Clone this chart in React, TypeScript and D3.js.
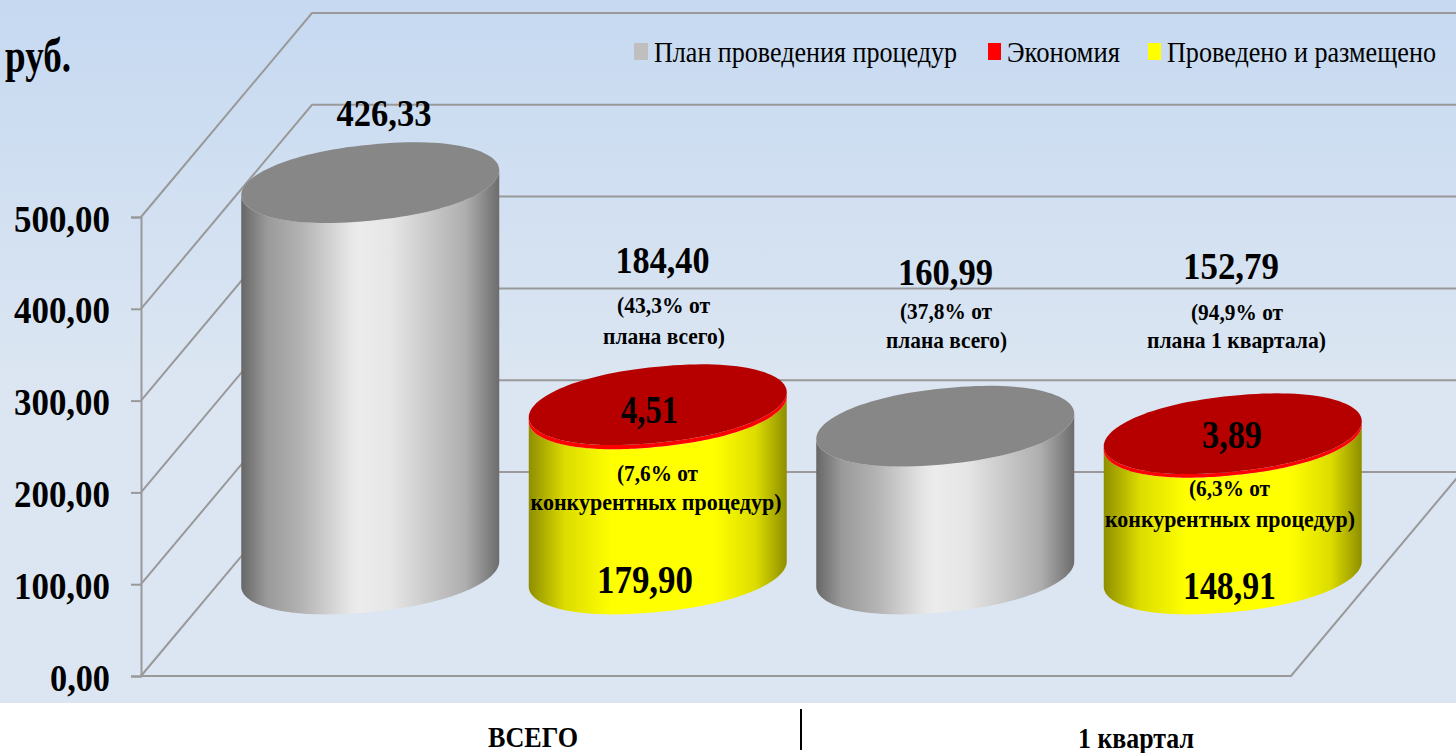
import React, { useEffect, useRef } from "react";
import * as d3 from "d3";

const width = 1456;
const height = 753;

// values
const bars = ["total-plan", "total-done", "q1-plan", "q1-done"];
const planValues = [426.33, 0, 160.99, 0];
const doneValues = [0, 179.9, 0, 148.91];
const savedValues = [0, 4.51, 0, 3.89];
const yTicks = [0, 100, 200, 300, 400, 500];
const legendLabels = ["План проведения процедур", "Экономия", "Проведено и размещено"];
const groupLabels = ["ВСЕГО", "1 квартал"];
const totalLabels = ["426,33", "184,40", "160,99", "152,79"];

const serif = "'Liberation Serif', 'Times New Roman', serif";

// chart geometry
const x0 = 141;
const floorW = 1150;
const y0 = 676;
const y500 = 217;
const depthX = 171;
const depthY = 204;
const radiusX = 129;
const radiusY = 38;
const skew = -12.5;
const roundness = 0.92; // <1 gives the fuller ends of the stretched ovals

const xBand = d3.scaleBand<string>().domain(bars).range([x0, x0 + floorW]);
const y = d3.scaleLinear().domain([0, 500]).range([y0, y500]);
const fmt = (v: number) => d3.format(".2f")(v).replace(".", ",");

const line = d3.line<[number, number]>().curve(d3.curveLinear);

function rim(cx: number, cy: number, from: number, to: number) {
  return d3.range(0, 121).map((i): [number, number] => {
    const t = from + ((to - from) * i) / 120;
    const c = Math.cos(t);
    const u = Math.sign(c) * Math.pow(Math.abs(c), roundness);
    return [cx + radiusX * u, cy + radiusY * Math.sin(t) + skew * u];
  });
}

function cylinderSide(cx: number, yBase: number, yTop: number) {
  // lower half of the top edge, then back along lower half of base
  const base = rim(cx, yBase, 0, Math.PI);
  const top = rim(cx, yTop, Math.PI, 0);
  return line([...base, ...top]) + "Z";
}

function ellipse(cx: number, cy: number) {
  return line(rim(cx, cy, 0, Math.PI * 2)) + "Z";
}

function Gradient({ id, stops }: { id: string; stops: [number, string][] }) {
  return (
    <linearGradient id={id} x1="0" x2="1" y1="0" y2="0">
      {stops.map(([o, c]) => (
        <stop key={o} offset={o} stopColor={c} />
      ))}
    </linearGradient>
  );
}

function T(props: any) {
  const { size, bold = true, children, anchor = "middle", w, ...rest } = props;
  return (
    <text
      fontFamily={serif}
      fontSize={size}
      fontWeight={bold ? "bold" : "normal"}
      textAnchor={anchor}
      fill="#000"
      textLength={w}
      lengthAdjust={w ? "spacingAndGlyphs" : undefined}
      {...rest}
    >
      {children}
    </text>
  );
}

// the legend text is tall and narrow in the source, so stretch it upward
const legendText = (x: number) => `translate(${x},62) scale(1,1.16)`;

export default function App() {
  const axisRef = useRef<SVGGElement>(null);

  useEffect(() => {
    const g = d3.select(axisRef.current);
    g.call(
      d3
        .axisLeft(y)
        .tickValues(yTicks)
        .tickSize(10)
        .tickPadding(21)
        .tickFormat((d) => fmt(+d)) as any
    );
    g.selectAll("path").attr("stroke", "#999").attr("stroke-width", 2);
    g.selectAll("line").attr("stroke", "#999").attr("stroke-width", 2);
    g.selectAll<SVGTextElement, number>("text")
      .attr("font-family", serif)
      .attr("font-size", 38)
      .attr("font-weight", "bold")
      .attr("fill", "#000")
      .attr("dy", "0.37em")
      .attr("lengthAdjust", "spacingAndGlyphs")
      .attr("textLength", (d) => (d === 0 ? 60 : 96));
  }, []);

  const cxOf = (i: number) => xBand(bars[i])! + xBand.bandwidth() / 2 + depthX / 2;
  const yOf = (v: number) => y(v) - depthY / 2;

  return (
    <svg
      width={width}
      height={height}
      style={{ position: "absolute", left: 0, top: 0, background: "#fff" }}
    >
      <defs>
        <linearGradient id="bg" x1="0" x2="0" y1="0" y2="1">
          <stop offset="0" stopColor="#c6d9f1" />
          <stop offset="0.55" stopColor="#dce6f2" />
          <stop offset="1" stopColor="#dce6f2" />
        </linearGradient>
        <Gradient
          id="gray"
          stops={[
            [0, "#676767"],
            [0.1, "#9a9a9a"],
            [0.23, "#b2b2b2"],
            [0.42, "#e6e6e6"],
            [0.46, "#ececec"],
            [0.58, "#e6e6e6"],
            [0.87, "#aeaeae"],
            [1, "#6c6c6c"],
          ]}
        />
        <Gradient
          id="yellow"
          stops={[
            [0, "#8e8e00"],
            [0.14, "#dcdc00"],
            [0.32, "#ffff00"],
            [0.72, "#ffff00"],
            [0.88, "#dcdc00"],
            [1, "#8e8e00"],
          ]}
        />
      </defs>

      <rect width={width} height={703} fill="url(#bg)" />

      {/* floor + back wall lines */}
      <g fill="none" stroke="#999" strokeWidth={2}>
        {yTicks.map((t) => (
          <path
            key={t}
            d={line([
              [x0, y(t)],
              [x0 + depthX, y(t) - depthY],
              [width + 10, y(t) - depthY],
            ])!}
          />
        ))}
        <path
          d={line([
            [x0, y(0)],
            [x0 + floorW, y(0)],
            [x0 + floorW + depthX, y(0) - depthY],
          ])!}
        />
      </g>

      <g ref={axisRef} transform={`translate(${x0},0)`} />

      {/* cylinders */}
      {bars.map((b, i) => {
        const cx = cxOf(i);
        const base = yOf(0);
        if (planValues[i] > 0) {
          const top = yOf(planValues[i]);
          return (
            <g key={b}>
              <path d={cylinderSide(cx, base, top)} fill="url(#gray)" />
              <path d={ellipse(cx, top)} fill="#878787" />
            </g>
          );
        }
        const mid = yOf(doneValues[i]);
        const top = yOf(doneValues[i] + savedValues[i]);
        return (
          <g key={b}>
            <path d={cylinderSide(cx, base, mid)} fill="url(#yellow)" />
            <path d={cylinderSide(cx, mid, top)} fill="#ff0000" />
            <path d={ellipse(cx, top)} fill="#b60000" />
          </g>
        );
      })}

      {/* totals */}
      <T size={38} w={95} x={384} y={126}>{totalLabels[0]}</T>
      <T size={38} w={94} x={662.5} y={273}>{totalLabels[1]}</T>
      <T size={38} w={95} x={945.5} y={285}>{totalLabels[2]}</T>
      <T size={38} w={96} x={1231} y={279}>{totalLabels[3]}</T>

      {/* share notes */}
      <T size={23} w={93} x={663.5} y={313}>(43,3% от</T>
      <T size={23} w={122} x={664} y={344}>плана всего)</T>
      <T size={23} w={92} x={946} y={319}>(37,8% от</T>
      <T size={23} w={121} x={946.5} y={348}>плана всего)</T>
      <T size={23} w={92} x={1237} y={320}>(94,9% от</T>
      <T size={23} w={179} x={1236.5} y={348}>плана 1 квартала)</T>

      {/* inside the bars */}
      <T size={39} w={57} x={649.5} y={423}>{fmt(savedValues[1])}</T>
      <T size={23} w={81} x={657.5} y={481}>(7,6% от</T>
      <T size={23} w={251} x={656} y={510}>конкурентных процедур)</T>
      <T size={39} w={96} x={645} y={593}>{fmt(doneValues[1])}</T>

      <T size={39} w={60} x={1232} y={448}>{fmt(savedValues[3])}</T>
      <T size={23} w={81} x={1229.5} y={496}>(6,3% от</T>
      <T size={23} w={250} x={1230} y={527}>конкурентных процедур)</T>
      <T size={39} w={93} x={1229.5} y={599}>{fmt(doneValues[3])}</T>

      <T size={48} w={66} x={5} y={72} anchor="start">руб.</T>

      {/* legend */}
      <rect x={634} y={43} width={14} height={17} fill="#bfbfbf" />
      <T size={26} w={303} bold={false} anchor="start" transform={legendText(654)}>{legendLabels[0]}</T>
      <rect x={988} y={43} width={13} height={17} fill="#ff0000" />
      <T size={26} w={113} bold={false} anchor="start" transform={legendText(1007)}>{legendLabels[1]}</T>
      <rect x={1148} y={43} width={13} height={17} fill="#ffff00" />
      <T size={26} w={269} bold={false} anchor="start" transform={legendText(1167)}>{legendLabels[2]}</T>

      {/* groups under the plot */}
      <T size={30} w={90} x={533} y={747}>{groupLabels[0]}</T>
      <line x1={801} x2={801} y1={709} y2={750} stroke="#000" strokeWidth={2} />
      <T size={30} w={116} x={1136} y={748}>{groupLabels[1]}</T>
    </svg>
  );
}
